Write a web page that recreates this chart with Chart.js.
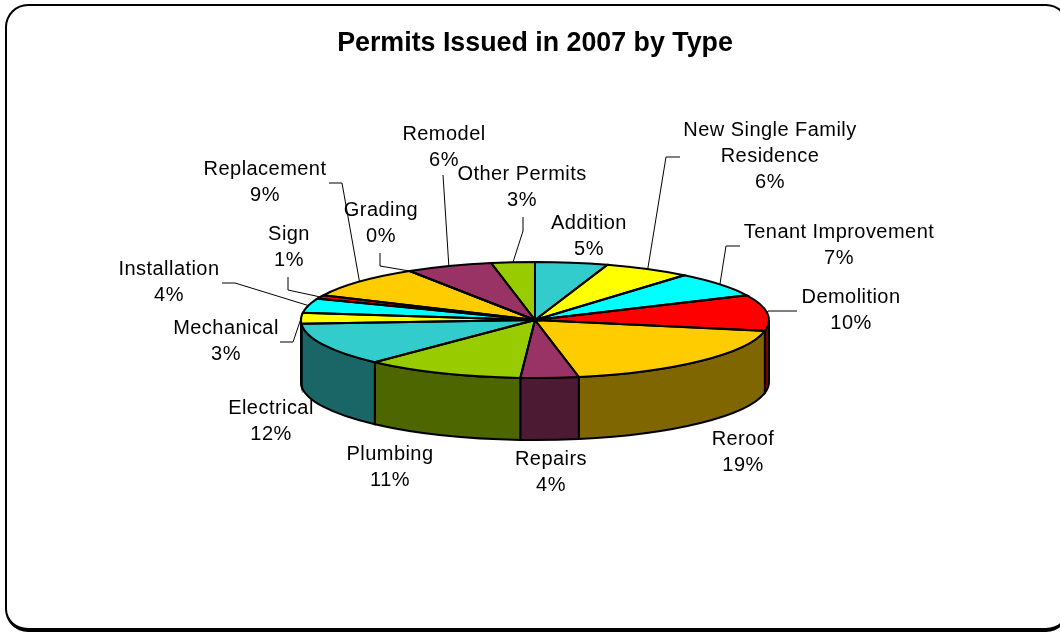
<!DOCTYPE html>
<html>
<head>
<meta charset="utf-8">
<title>Permits Issued in 2007 by Type</title>
<script src="https://cdn.jsdelivr.net/npm/chart.js@4/dist/chart.umd.js"></script>
<style>
    html, body { margin: 0; padding: 0; background: #fff; overflow: hidden; }
    #frame {
        position: absolute; left: 5px; top: 4px; width: 1064px; height: 628px;
        border: 2px solid #000; border-bottom-width: 4px; border-radius: 23px;
        box-sizing: border-box;
    }
    canvas { position: absolute; left: 0; top: 0; }
</style>
</head>
<body>
<div id="frame"></div>
<canvas id="myChart" width="1060" height="632"></canvas>
<script>
const categories = ["Addition", "New Single Family Residence", "Tenant Improvement", "Demolition", "Reroof", "Repairs", "Plumbing", "Electrical", "Mechanical", "Installation", "Sign", "Replacement", "Grading", "Remodel", "Other Permits"]
const percents = [5, 6, 7, 10, 19, 4, 11, 12, 3, 4, 1, 9, 0, 6, 3]
const topColors = ["#33CCCC", "#FFFF00", "#00FFFF", "#FF0000", "#FFCC00", "#993366", "#99CC00", "#33CCCC", "#FFFF00", "#00FFFF", "#FF0000", "#FFCC00", "#FFCC00", "#993366", "#99CC00"]
const wallColors = ["#1A6666", "#808000", "#008080", "#800000", "#806600", "#4D1A33", "#4D6600", "#1A6666", "#808000", "#008080", "#800000", "#806600", "#806600", "#4D1A33", "#4D6600"]

// wrapped label lines and their centre / first baseline position
const labelLines = [["Addition"], ["New Single Family", "Residence"], ["Tenant Improvement"], ["Demolition"], ["Reroof"], ["Repairs"], ["Plumbing"], ["Electrical"], ["Mechanical"], ["Installation"], ["Sign"], ["Replacement"], ["Grading"], ["Remodel"], ["Other Permits"]]
const labelPos = [[589, 229], [770, 136], [839, 238], [851, 303], [743, 445], [551, 465], [390, 460], [271, 414], [226, 334], [169, 275], [289, 240], [265, 175], [381, 216], [444, 140], [522, 180]]

// leader line bends, the last point is taken from the slice itself
const leaders = [null, [[680, 157], [666, 157]], [[740, 246], [726, 246]], [[797, 311], [768, 311]], null, null, null, null, [[280, 342], [293, 342]], [[222, 283], [235, 283]], [[288, 277], [288, 290]], [[329, 183], [342, 183]], [[380, 253], [380, 266]], [[443, 175]], [[523, 217], [523, 231]]]

const squash = 58 / 234
const depth = 62
const textFont = '20px "Liberation Sans", Arial, sans-serif'

function sliceAngles(chart) {
    const meta = chart.getDatasetMeta(0)
    return meta.data.map(arc => ({
        x: arc.x,
        y: arc.y,
        r: arc.outerRadius,
        start: arc.startAngle,
        end: arc.endAngle,
    }))
}

// the rim below the top face, only the part that faces the viewer
function drawWalls(ctx, chart) {
    sliceAngles(chart).forEach((s, i) => {
        const a0 = Math.max(s.start, 0)
        const a1 = Math.min(s.end, Math.PI)
        if (a1 <= a0) return
        const ry = s.r * squash
        ctx.beginPath()
        ctx.ellipse(s.x, s.y, s.r, ry, 0, a0, a1)
        ctx.ellipse(s.x, s.y + depth, s.r, ry, 0, a1, a0, true)
        ctx.closePath()
        ctx.fillStyle = wallColors[i]
        ctx.fill()
        ctx.lineWidth = 2
        ctx.strokeStyle = "#000"
        ctx.stroke()
    })
}

function drawOutlines(ctx, chart) {
    sliceAngles(chart).forEach(s => {
        const ry = s.r * squash
        ctx.beginPath()
        ctx.moveTo(s.x, s.y)
        ctx.ellipse(s.x, s.y, s.r, ry, 0, s.start, s.end)
        ctx.closePath()
        ctx.lineWidth = 2
        ctx.strokeStyle = "#000"
        ctx.stroke()
    })
}

function drawLabels(ctx, chart) {
    const slices = sliceAngles(chart)
    ctx.strokeStyle = "#000"
    ctx.lineWidth = 1
    leaders.forEach((bends, i) => {
        if (!bends) return
        const s = slices[i]
        const mid = (s.start + s.end) / 2
        ctx.beginPath()
        bends.forEach((p, k) => k ? ctx.lineTo(p[0], p[1]) : ctx.moveTo(p[0], p[1]))
        ctx.lineTo(s.x + s.r * Math.cos(mid), s.y + s.r * squash * Math.sin(mid))
        ctx.stroke()
    })

    ctx.font = textFont
    ctx.letterSpacing = "0.45px"
    ctx.fillStyle = "#000"
    ctx.textAlign = "center"
    ctx.textBaseline = "alphabetic"
    categories.forEach((name, i) => {
        const lines = labelLines[i].concat(percents[i] + "%")
        lines.forEach((line, k) => {
            ctx.fillText(line, labelPos[i][0], labelPos[i][1] + k * 26)
        })
    })
    ctx.letterSpacing = "0px"
}

const pie3d = {
    id: "pie3d",
    beforeDatasetDraw(chart) {
        const ctx = chart.ctx
        drawWalls(ctx, chart)
        // flatten the round pie into the top face of the disc
        const s = chart.getDatasetMeta(0).data[0]
        ctx.save()
        ctx.translate(s.x, s.y)
        ctx.scale(1, squash)
        ctx.translate(-s.x, -s.y)
    },
    afterDatasetDraw(chart) {
        const ctx = chart.ctx
        ctx.restore()
        drawOutlines(ctx, chart)
        drawLabels(ctx, chart)
    },
}

new Chart(document.getElementById("myChart"), {
    type: "pie",
    data: {
        labels: categories,
        datasets: [{
            data: percents,
            backgroundColor: topColors,
            borderWidth: 0,
            clip: false,
        }],
    },
    options: {
        responsive: false,
        animation: false,
        layout: { padding: { left: 301, right: 291, top: 28, bottom: 78 } },
        plugins: {
            legend: { display: false },
            tooltip: { enabled: false },
            title: {
                display: true,
                text: "Permits Issued in 2007 by Type",
                color: "#000",
                font: { family: '"Liberation Sans", Arial, sans-serif', size: 26.8, weight: "bold", lineHeight: 1.2 },
                padding: { top: 0, bottom: 25.84 },
            },
        },
    },
    plugins: [pie3d],
})
</script>
</body>
</html>
